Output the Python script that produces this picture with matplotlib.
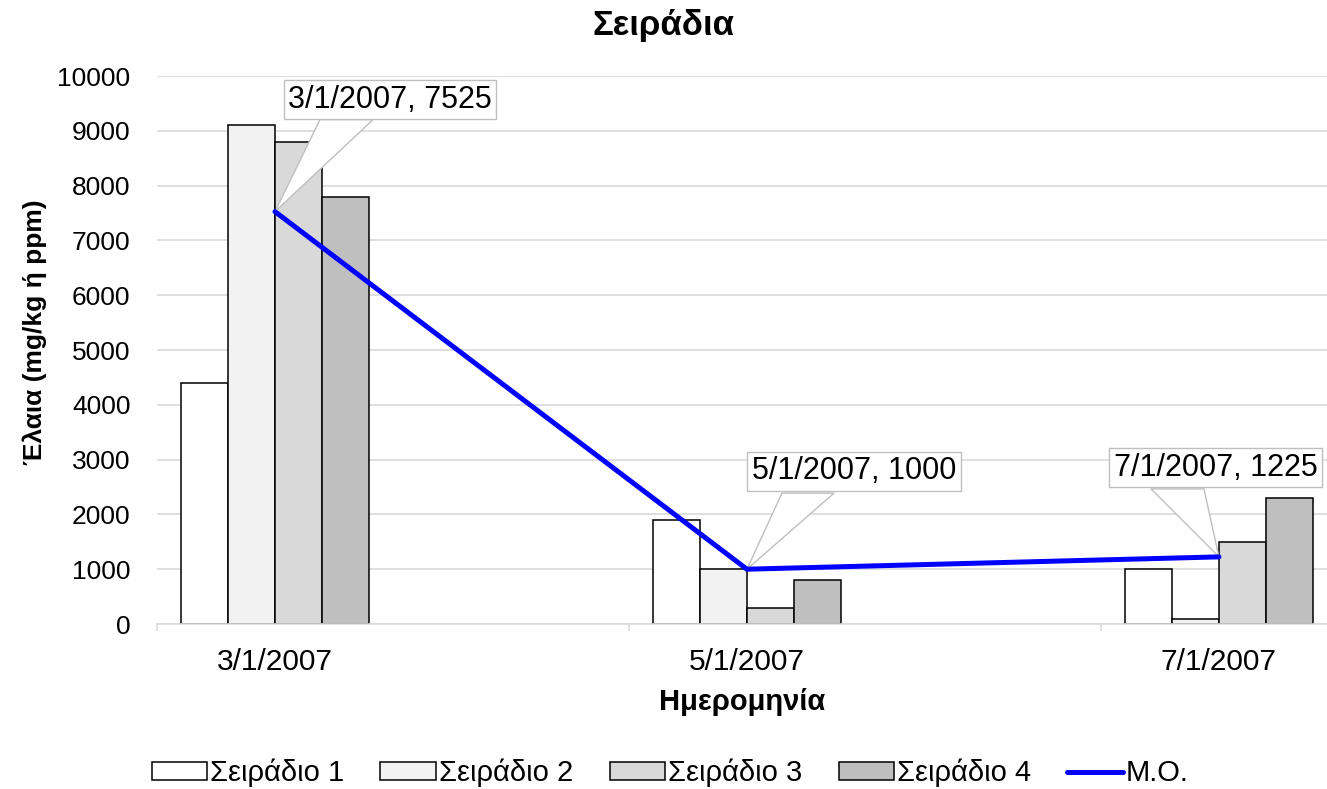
import matplotlib.pyplot as plt
from matplotlib.patches import Polygon
import numpy as np

plt.rcParams['font.family'] = ['Liberation Sans', 'DejaVu Sans']

# Datos del gráfico
dates = ['3/1/2007', '5/1/2007', '7/1/2007']
series_names = ['Σειράδιο 1', 'Σειράδιο 2', 'Σειράδιο 3', 'Σειράδιο 4']
s1 = [4400, 1900, 1000]
s2 = [9100, 1000, 100]
s3 = [8800, 300, 1500]
s4 = [7800, 800, 2300]
mean_vals = [7525, 1000, 1225]
mean_name = 'Μ.Ο.'
bar_colors = ['#FFFFFF', '#F2F2F2', '#D9D9D9', '#BFBFBF']

W, H = 1327, 789
fig = plt.figure(figsize=(W / 100, H / 100), dpi=100)
ax = fig.add_axes([157 / W, 1 - 624 / H, 1 - 157 / W, (624 - 76) / H])

x = np.arange(len(dates))
width = 0.1
handles = []
for i, (vals, name, col) in enumerate(zip([s1, s2, s3, s4], series_names, bar_colors)):
    b = ax.bar(x + (i - 1.5) * width, vals, width, color=col, edgecolor='black',
               linewidth=1.1, label=name, zorder=2)
    handles.append(b)

line, = ax.plot(x, mean_vals, color='#0000FF', linewidth=3.6, label=mean_name, zorder=4,
                solid_capstyle='round')
handles.append(line)

ax.set_xlim(-0.25, 2.229)
ax.set_ylim(0, 10000)

# Etiquetas tipo globo (posiciones relativas al punto, en píxeles)
box_offsets = [(115, 112), (107, 98), (-3, 89)]
wedge_bases = [((45, 92), (98, 92)), ((35, 76), (87, 76)), ((-68, 68), (-15, 68))]
for xi, v, d, off, base in zip(x, mean_vals, dates, box_offsets, wedge_bases):
    px, py = ax.transData.transform((xi, v))
    verts = [(px, py), (px + base[0][0], py + base[0][1]), (px + base[1][0], py + base[1][1])]
    ax.add_patch(Polygon(verts, closed=True, transform=None, fc='white', ec='#BFBFBF',
                         lw=1, zorder=3, clip_on=False))
    ax.annotate(f'{d}, {v}', xy=(xi, v), xytext=(off[0] * 0.72, off[1] * 0.72),
                textcoords='offset points', ha='center', va='center', fontsize=22,
                zorder=5, annotation_clip=False,
                bbox=dict(boxstyle='square,pad=0.15', fc='white', ec='#BFBFBF', lw=1))

ax.set_yticks(np.arange(0, 10001, 1000))
ax.grid(axis='y', color='#D9D9D9', linewidth=1.2, zorder=0)
ax.set_axisbelow(True)

ax.set_xticks(x)
ax.set_xticklabels(dates)
ax.set_xticks([-0.25, 0.75, 1.75], minor=True)
ax.tick_params(axis='x', which='major', length=0, labelsize=21.5, pad=17)
ax.tick_params(axis='x', which='minor', length=5, color='#D9D9D9', width=1.2)
ax.tick_params(axis='y', length=0, labelsize=19, pad=19)

for side in ['top', 'right', 'left']:
    ax.spines[side].set_visible(False)
ax.spines['bottom'].set_color('#D9D9D9')
ax.spines['bottom'].set_linewidth(1.2)

ax.set_xlabel('Ημερομηνία', fontsize=21, fontweight='bold', labelpad=9)
ax.set_ylabel('Έλαια (mg/kg ή ppm)', fontsize=19, fontweight='bold')
ax.yaxis.set_label_coords(-0.094, 0.533)
fig.text(0.5, 1 - 25 / H, 'Σειράδια', ha='center', va='center', fontsize=25,
         fontweight='bold')

fig.legend(handles=handles, loc='center', bbox_to_anchor=(0.505, 1 - 773 / H), ncol=5,
           frameon=False, fontsize=21, handlelength=1.9, handleheight=0.55,
           handletextpad=0.1, columnspacing=1.25)

fig.savefig('out.png', dpi=100)
